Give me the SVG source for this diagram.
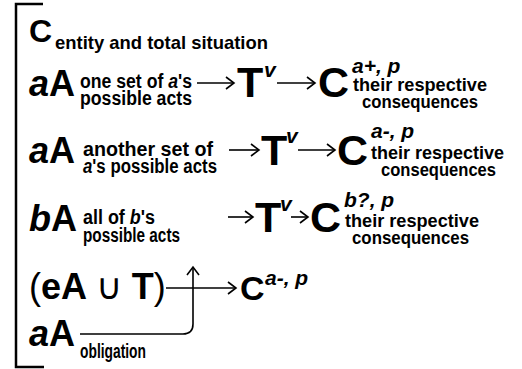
<svg xmlns="http://www.w3.org/2000/svg" width="522" height="369" viewBox="0 0 522 369">
<defs>
<marker id="ah" markerUnits="userSpaceOnUse" markerWidth="12" markerHeight="14" refX="10" refY="7" orient="auto">
<path d="M2,1 L10,7 L2,13" fill="none" stroke="#000" stroke-width="1.6"/>
</marker>
<style>
text{font-family:"Liberation Sans",Arial,sans-serif;fill:#000}
.big{font-size:36px;font-weight:bold}
.huge{font-size:43px;font-weight:bold}
.sm{font-size:19px;font-weight:bold}
.sl{font-size:20px;font-weight:bold}
.sup{font-size:21px;font-weight:bold;font-style:italic}
.it{font-style:italic}
.rg{font-weight:normal}
.conn{fill:none;stroke:#000;stroke-width:1.6}
</style>
</defs>
<rect width="522" height="369" fill="#fff"/>
<path d="M43,4 H16 V367 H44" fill="none" stroke="#000" stroke-width="2.5"/>

<g id="row1">
<text x="29" y="42" style="font-size:32px;font-weight:bold">C</text>
<text x="55" y="49" class="sm" textLength="213" lengthAdjust="spacingAndGlyphs">entity and total situation</text>
</g>

<g id="row2">
<text x="29" y="96" class="big"><tspan class="it">a</tspan>A</text>
<text x="80" y="88" class="sl" textLength="112" lengthAdjust="spacingAndGlyphs">one set of <tspan class="it">a</tspan>'s</text>
<text x="80" y="105" class="sl" textLength="112" lengthAdjust="spacingAndGlyphs">possible acts</text>
<text x="237" y="97" class="huge">T</text>
<text x="264" y="77" class="sup">v</text>
<text x="318" y="97" class="huge">C</text>
<text x="352" y="73" class="sup">a+, p</text>
<text x="353" y="91" class="sm" textLength="134" lengthAdjust="spacingAndGlyphs">their respective</text>
<text x="362" y="108" class="sm" textLength="116" lengthAdjust="spacingAndGlyphs">consequences</text>
</g>

<g id="row3">
<text x="29" y="163" class="big"><tspan class="it">a</tspan>A</text>
<text x="83" y="156" class="sl" textLength="130" lengthAdjust="spacingAndGlyphs">another set of</text>
<text x="83" y="173" class="sl" textLength="134" lengthAdjust="spacingAndGlyphs"><tspan class="it">a</tspan>'s possible acts</text>
<text x="261" y="165" class="huge">T</text>
<text x="286" y="143" class="sup">v</text>
<text x="337" y="165" class="huge">C</text>
<text x="371" y="138" class="sup">a-, p</text>
<text x="371" y="159" class="sm" textLength="133" lengthAdjust="spacingAndGlyphs">their respective</text>
<text x="381" y="176" class="sm" textLength="115" lengthAdjust="spacingAndGlyphs">consequences</text>
</g>

<g id="row4">
<text x="29" y="231" class="big"><tspan class="it">b</tspan>A</text>
<text x="83" y="224" class="sl" textLength="72" lengthAdjust="spacingAndGlyphs">all of <tspan class="it">b</tspan>'s</text>
<text x="83" y="242" class="sl" textLength="97" lengthAdjust="spacingAndGlyphs">possible acts</text>
<text x="255" y="232" class="huge">T</text>
<text x="280" y="211" class="sup">v</text>
<text x="310" y="232" class="huge">C</text>
<text x="344" y="207" class="sup">b?, p</text>
<text x="345" y="227" class="sm" textLength="134" lengthAdjust="spacingAndGlyphs">their respective</text>
<text x="352" y="244" class="sm" textLength="117" lengthAdjust="spacingAndGlyphs">consequences</text>
</g>

<g id="row5">
<text x="29" y="299" class="big"><tspan class="rg">(</tspan>eA <tspan class="rg">∪</tspan> T<tspan class="rg">)</tspan></text>
<text x="240" y="300" style="font-size:34px;font-weight:bold">C</text>
<text x="265" y="285" class="sup">a-, p</text>
</g>

<g id="row6">
<text x="29" y="346" class="big"><tspan class="it">a</tspan>A</text>
<text x="80" y="358" class="sl" textLength="66" lengthAdjust="spacingAndGlyphs">obligation</text>
</g>

<g id="connectors">
<path class="conn" d="M197,83 H234" marker-end="url(#ah)"/>
<path class="conn" d="M277,83 H315" marker-end="url(#ah)"/>
<path class="conn" d="M229,150 H259" marker-end="url(#ah)"/>
<path class="conn" d="M298,150 H335" marker-end="url(#ah)"/>
<path class="conn" d="M228,217 H253" marker-end="url(#ah)"/>
<path class="conn" d="M291,217 H308" marker-end="url(#ah)"/>
<path class="conn" d="M166,288 H236" marker-end="url(#ah)"/>
<path class="conn" d="M80,334 H183 Q193,334 193,324 V267" marker-end="url(#ah)"/>
</g>
</svg>
